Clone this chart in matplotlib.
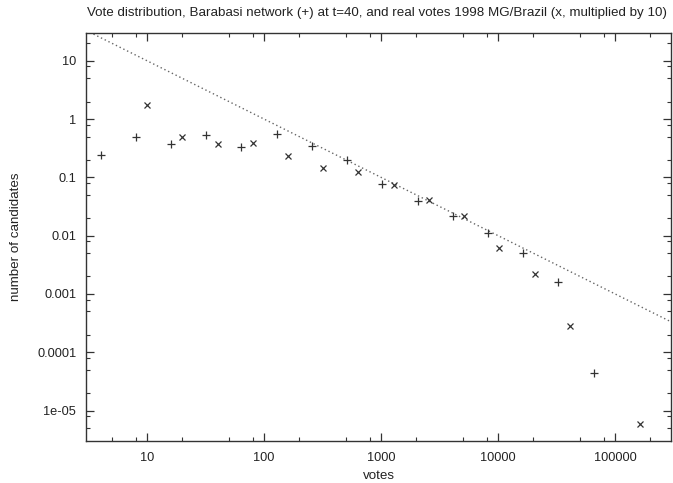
"""
vote distribution plot -- Barabasi network vs real votes (MG/Brazil 1998)
log-log scatter with a power-law guide line (gnuplot look)
"""

import numpy as np
import matplotlib
matplotlib.use('Agg')
import matplotlib.pyplot as plt
from matplotlib.ticker import LogLocator, FixedLocator, FuncFormatter, NullFormatter

# ── data ────────────────────────────────────────────────────────
# Barabasi network (+) at t=40
net_votes = [4, 8, 16, 32, 64, 128, 256, 512, 1024, 2048,
             4096, 8192, 16384, 32768, 65536]
net_cands = [0.244, 0.49, 0.368, 0.53, 0.335, 0.55, 0.344, 0.20, 0.076, 0.040,
             0.0217, 0.0112, 0.0051, 0.00162, 4.35e-5]

# real votes 1998 MG/Brazil (x, multiplied by 10)
real_votes = [10, 20, 40, 80, 160, 320, 640, 1280, 2560, 5120,
              10240, 20480, 40960, 163840]
real_cands = [1.76, 0.49, 0.368, 0.39, 0.235, 0.146, 0.123, 0.075, 0.041, 0.0217,
              0.0062, 0.00219, 0.000281, 5.86e-6]

# power-law guide (dotted)
fit_votes = [3, 300000]
fit_cands = [33.3, 3.33e-4]

x_ticks = [10, 100, 1000, 10000, 100000]
y_ticks = [1e-5, 1e-4, 1e-3, 1e-2, 1e-1, 1, 10]
y_tick_labels = ['1e-05', '0.0001', '0.001', '0.01', '0.1', '1', '10']

TITLE = ('Vote distribution, Barabasi network (+) at t=40, '
         'and real votes 1998 MG/Brazil (x, multiplied by 10)')

plt.rcParams['font.family'] = ['Liberation Sans', 'DejaVu Sans']

FG = '#333333'
TXT = '#222222'


def main():
    fig = plt.figure(figsize=(6.73, 4.83), dpi=100)
    ax = fig.add_axes([86 / 673, 1 - 441 / 483, 585 / 673, 408 / 483])

    ax.plot(fit_votes, fit_cands, color='#666666', linestyle=(0, (1, 2)),
            linewidth=1.0, zorder=1)
    ax.plot(net_votes, net_cands, linestyle='none', marker='+',
            markersize=5.5, markeredgewidth=0.9, color=FG, zorder=3)
    ax.plot(real_votes, real_cands, linestyle='none', marker='x',
            markersize=5, markeredgewidth=0.9, color=FG, zorder=3)

    ax.set_xscale('log')
    ax.set_yscale('log')
    ax.set_xlim(3, 300000)
    ax.set_ylim(3e-6, 30)

    # ── ticks: gnuplot style, inside on all four sides ──
    ax.xaxis.set_major_locator(FixedLocator(x_ticks))
    ax.xaxis.set_major_formatter(FuncFormatter(lambda v, _: f'{v:.0f}'))
    ax.xaxis.set_minor_locator(LogLocator(base=10, subs=[2, 5, 8]))
    ax.xaxis.set_minor_formatter(NullFormatter())

    ax.yaxis.set_major_locator(FixedLocator(y_ticks))
    ax.set_yticklabels(y_tick_labels)
    ax.yaxis.set_minor_locator(LogLocator(base=10, subs=[2, 5, 8]))
    ax.yaxis.set_minor_formatter(NullFormatter())

    ax.tick_params(which='both', direction='in', top=True, right=True,
                   colors=FG, labelsize=9.2, labelcolor=TXT)
    ax.tick_params(which='major', length=6, width=0.9)
    ax.tick_params(axis='x', which='major', pad=8)
    ax.tick_params(axis='y', which='major', pad=7)
    ax.tick_params(which='minor', length=3, width=0.8)

    for sp in ax.spines.values():
        sp.set_color(FG)
        sp.set_linewidth(1.0)

    ax.set_xlabel('votes', fontsize=9.6, color=TXT)
    ax.set_ylabel('number of candidates', fontsize=9.6, color=TXT)
    ax.xaxis.set_label_coords(0.5, (441 - 470) / 408)
    ax.yaxis.set_label_coords((22 - 86) / 585, 0.5)
    fig.text(87 / 673, 1 - 13 / 483, TITLE, ha='left', va='center',
             fontsize=9.6, color=TXT)

    fig.savefig('out.png', dpi=100)
    plt.close(fig)


if __name__ == '__main__':
    main()
